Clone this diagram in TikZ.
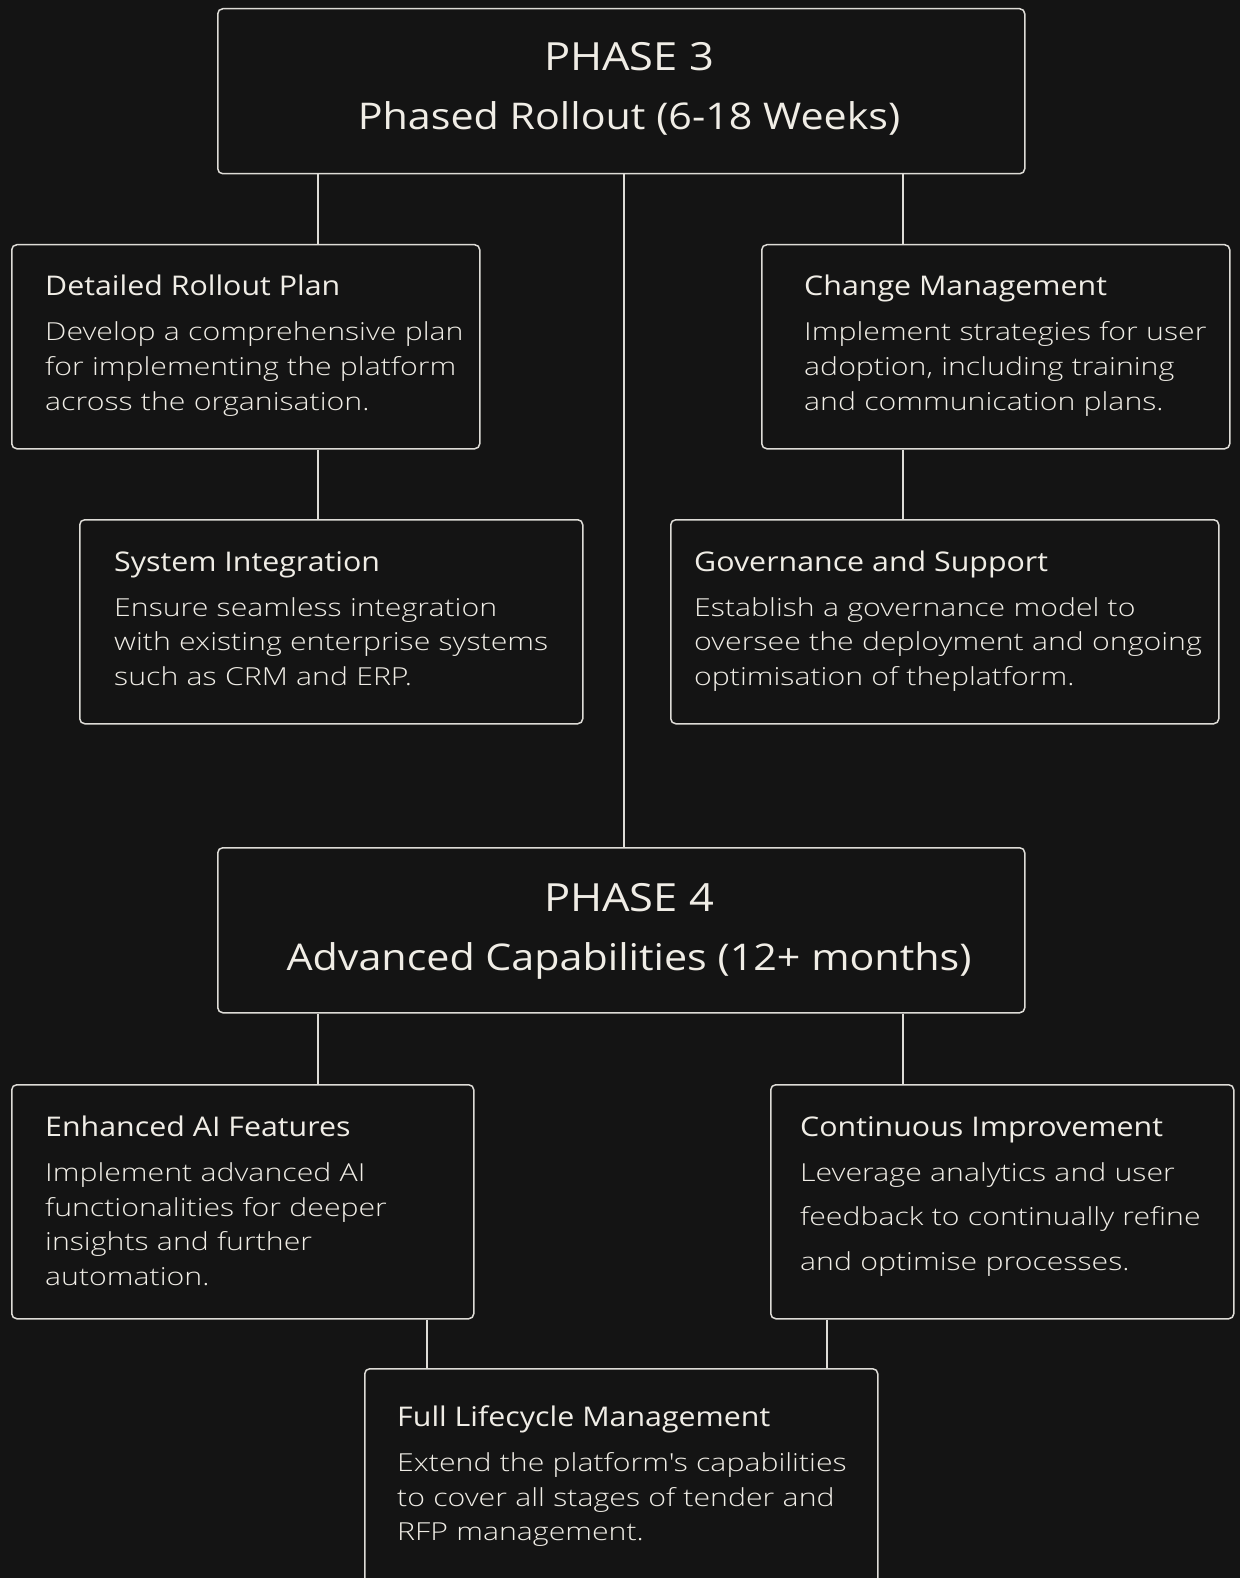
\documentclass[tikz,border=0pt]{standalone}
\usepackage{fontspec}
\newfontfamily\headfont[FakeStretch=1.12]{Open Sans}
\newfontfamily\bodyfont[FakeStretch=1.22]{Open Sans Light}
\definecolor{bg}{RGB}{20,20,20}
\definecolor{txt}{RGB}{240,237,230}
\definecolor{edge}{RGB}{222,220,215}
\tikzset{
  box/.style={draw=edge, line width=1.5pt, rounded corners=5pt, fill=bg, inner sep=0pt, anchor=north west},
  conn/.style={draw=edge, line width=1.5pt},
  title/.style={text=txt, inner sep=0pt, anchor=base, font=\headfont\fontsize{36.8}{44}\selectfont},
  phase/.style={title, font=\headfont\fontsize{38.8}{44}\selectfont},
  head/.style={text=txt, inner sep=0pt, anchor=base west, font=\headfont\fontsize{27.1}{30}\selectfont},
  body/.style={text=txt, inner sep=0pt, anchor=base west, text width=560pt, align=left, font=\bodyfont\fontsize{24.8}{34.6}\selectfont},
  bodywide/.style={body, font=\bodyfont\fontsize{24.8}{44.3}\selectfont},
}
\begin{document}
\begin{tikzpicture}[x=1pt,y=-1pt]
\fill[bg] (0,0) rectangle (1240,1578);
\useasboundingbox (0,0) rectangle (1240,1578);
\clip (0,0) rectangle (1240,1578);

% columns for connectors
\coordinate (xL) at (318,0);
\coordinate (xC) at (624,0);
\coordinate (xR) at (903,0);
\coordinate (xFL) at (427,0);
\coordinate (xFR) at (827,0);

% boxes
\node[box, minimum width=807pt, minimum height=165pt] (p3) at (217,8) {};
\node[box, minimum width=468pt, minimum height=204pt] (drp) at (11,244) {};
\node[box, minimum width=468pt, minimum height=204pt] (cm) at (761,244) {};
\node[box, minimum width=503pt, minimum height=204pt] (si) at (79,519) {};
\node[box, minimum width=548pt, minimum height=204pt] (gs) at (670,519) {};
\node[box, minimum width=807pt, minimum height=165pt] (p4) at (217,847) {};
\node[box, minimum width=462pt, minimum height=234pt] (eai) at (11,1084) {};
\node[box, minimum width=463pt, minimum height=234pt] (ci) at (770,1084) {};
\node[box, minimum width=513pt, minimum height=260pt] (flm) at (364,1368) {};

% connectors
\draw[conn] (p3.south -| xL) -- (drp.north -| xL);
\draw[conn] (p3.south -| xC) -- (p4.north -| xC);
\draw[conn] (p3.south -| xR) -- (cm.north -| xR);
\draw[conn] (drp.south -| xL) -- (si.north -| xL);
\draw[conn] (cm.south -| xR) -- (gs.north -| xR);
\draw[conn] (p4.south -| xL) -- (eai.north -| xL);
\draw[conn] (p4.south -| xR) -- (ci.north -| xR);
\draw[conn] (eai.south -| xFL) -- (flm.north -| xFL);
\draw[conn] (ci.south -| xFR) -- (flm.north -| xFR);

% phase titles
\node[phase] (p3a) at (629,71) {PHASE 3};
\node[title] (p3b) at (629,130) {Phased Rollout (6-18 Weeks)};
\node[phase] (p4a) at (629,911) {PHASE 4};
\node[title] (p4b) at (629,970) {Advanced Capabilities (12+ months)};

% Detailed Rollout Plan
\node[head] (drph) at (45,296) {Detailed Rollout Plan};
\node[body] (drpb) at (45,341) {Develop a comprehensive plan\\for implementing the platform\\across the organisation.};

% Change Management
\node[head] (cmh) at (804,296) {Change Management};
\node[body] (cmb) at (804,341) {Implement strategies for user\\adoption, including training\\and communication plans.};

% System Integration
\node[head] (sih) at (114,571) {System Integration};
\node[body] (sib) at (114,616) {Ensure seamless integration\\with existing enterprise systems\\such as CRM and ERP.};

% Governance and Support
\node[head] (gsh) at (694,571) {Governance and Support};
\node[body] (gsb) at (694,616) {Establish a governance model to\\oversee the deployment and ongoing\\optimisation of theplatform.};

% Enhanced AI Features
\node[head] (eaih) at (45,1136) {Enhanced AI Features};
\node[body] (eaib) at (45,1181.5) {Implement advanced AI\\functionalities for deeper\\insights and further\\automation.};

% Continuous Improvement
\node[head] (cih) at (800,1136) {Continuous Improvement};
\node[bodywide] (cib) at (800,1181.5) {Leverage analytics and user\\feedback to continually refine\\and optimise processes.};

% Full Lifecycle Management
\node[head] (flmh) at (397,1426.5) {Full Lifecycle Management};
\node[body] (flmb) at (397,1471.5) {Extend the platform\textquotesingle s capabilities\\to cover all stages of tender and\\RFP management.};
\end{tikzpicture}
\end{document}
